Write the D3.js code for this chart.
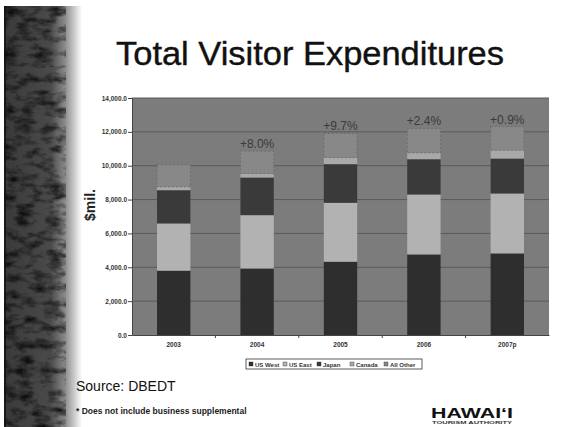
<!DOCTYPE html>
<html>
<head>
<meta charset="utf-8">
<script src="https://cdn.jsdelivr.net/npm/d3@7/dist/d3.min.js"></script>
<style>
  html, body { margin: 0; padding: 0; background: #fff; }
  svg { display: block; font-family: Arial, "Liberation Sans", sans-serif; }
</style>
</head>
<body>
<svg id="chart" width="566" height="427"></svg>
<script>
// Visitor spending by market, $ millions
const years    = ["2003", "2004", "2005", "2006", "2007p"];
const usWest   = [3800, 3930, 4330, 4760, 4820];
const usEast   = [2790, 3150, 3480, 3540, 3540];
const japan    = [1965, 2224, 2283, 2084, 2065];
const canada   = [195, 236, 395, 373, 490];
const allOther = [1306, 1321, 1426, 1443, 1395];
const seriesNames = ["US West", "US East", "Japan", "Canada", "All Other"];
const growthLabels = ["", "+8.0%", "+9.7%", "+2.4%", "+0.9%"];
const yTicks = [0, 2000, 4000, 6000, 8000, 10000, 12000, 14000];

const seriesColors = ["#2e2e2e", "#b2b2b2", "#3a3a3a", "#a9a9a9", "#888888"];

const svg = d3.select("#chart");
const W = 566, H = 427;

// decorative textured strip on the left edge
const defs = svg.append("defs");
const grad = defs.append("linearGradient").attr("id", "edge").attr("x1", 0).attr("x2", 1);
grad.append("stop").attr("offset", "0%").attr("stop-color", "#3a3a3a");
grad.append("stop").attr("offset", "60%").attr("stop-color", "#4a4a4a");
grad.append("stop").attr("offset", "78%").attr("stop-color", "#8a8a8a");
grad.append("stop").attr("offset", "100%").attr("stop-color", "#ffffff");
const grain = defs.append("filter").attr("id", "grain").attr("x", 0).attr("y", 0).attr("width", 1).attr("height", 1);
grain.append("feTurbulence").attr("type", "fractalNoise").attr("baseFrequency", "0.06 0.12").attr("numOctaves", 4).attr("seed", 3).attr("result", "n");
grain.append("feColorMatrix").attr("in", "n").attr("type", "matrix")
  .attr("values", "0 0 0 0 0  0 0 0 0 0  0 0 0 0 0  1.8 0 0 0 -0.75").attr("result", "m");
grain.append("feComposite").attr("in", "m").attr("in2", "SourceGraphic").attr("operator", "in");

svg.append("rect").attr("x", 4).attr("y", 6).attr("width", 78).attr("height", H - 6)
  .attr("fill", "url(#edge)");
svg.append("rect").attr("x", 4).attr("y", 6).attr("width", 62).attr("height", H - 6)
  .attr("fill", "#000").attr("filter", "url(#grain)");
svg.append("line").attr("x1", 5).attr("x2", 5).attr("y1", 6).attr("y2", H).attr("stroke", "#111").attr("stroke-width", 1.5);

// title
svg.append("text").attr("x", 116).attr("y", 65).attr("font-size", 33).attr("fill", "#111")
  .attr("stroke", "#111").attr("stroke-width", 0.4)
  .attr("textLength", 388).attr("lengthAdjust", "spacingAndGlyphs")
  .text("Total Visitor Expenditures");

// plot area
const plot = { left: 132, right: 549, top: 98, bottom: 335 };
const x = d3.scaleBand().domain(years).range([plot.left, plot.right]).paddingInner(0.6).paddingOuter(0.3);
const y = d3.scaleLinear().domain([0, 14000]).range([plot.bottom, plot.top]);

svg.append("rect").attr("x", plot.left).attr("y", plot.top)
  .attr("width", plot.right - plot.left).attr("height", plot.bottom - plot.top)
  .attr("fill", "#7c7c7c");

// gridlines
svg.append("g").selectAll("line").data(yTicks.slice(1)).join("line")
  .attr("x1", plot.left).attr("x2", plot.right)
  .attr("y1", d => y(d)).attr("y2", d => y(d))
  .attr("stroke", "#5a5a5a").attr("stroke-width", 1);

// stacked bars
const rows = years.map((yr, i) => ({
  year: yr, "US West": usWest[i], "US East": usEast[i], "Japan": japan[i],
  "Canada": canada[i], "All Other": allOther[i]
}));
const stacked = d3.stack().keys(seriesNames)(rows);

svg.append("g").selectAll("g").data(stacked).join("g")
  .attr("fill", (d, i) => seriesColors[i])
  .selectAll("rect").data(d => d).join("rect")
  .attr("x", d => x(d.data.year))
  .attr("width", x.bandwidth())
  .attr("y", d => y(d[1]))
  .attr("height", d => y(d[0]) - y(d[1]));

// outline the top segment
const topLayer = stacked[stacked.length - 1];
svg.append("g").selectAll("rect").data(topLayer).join("rect")
  .attr("x", d => x(d.data.year))
  .attr("width", x.bandwidth())
  .attr("y", d => y(d[1]))
  .attr("height", d => y(d[0]) - y(d[1]))
  .attr("fill", "none").attr("stroke", "#6a6a6a").attr("stroke-width", 0.8)
  .attr("stroke-dasharray", "2,2");

// growth labels above bars
svg.append("g").selectAll("text").data(topLayer).join("text")
  .attr("x", d => x(d.data.year) + x.bandwidth() / 2)
  .attr("y", d => y(d[1]) - 3)
  .attr("text-anchor", "middle").attr("font-size", 12).attr("fill", "#3a3a3a")
  .text((d, i) => growthLabels[i]);

// y axis
const yAxis = d3.axisLeft(y).tickValues(yTicks).tickSize(4).tickFormat(d3.format(",.1f"));
const gy = svg.append("g").attr("transform", `translate(${plot.left},0)`).call(yAxis);
gy.select(".domain").attr("stroke", "#444");
gy.selectAll(".tick line").attr("stroke", "#444");
gy.selectAll(".tick text").attr("font-size", 6.5).attr("font-weight", "bold").attr("fill", "#333").attr("x", -5);

// x axis
const xAxis = d3.axisBottom(x).tickSize(0).tickPadding(7);
const gx = svg.append("g").attr("transform", `translate(0,${plot.bottom})`).call(xAxis);
gx.select(".domain").attr("stroke", "#444");
gx.selectAll(".tick text").attr("font-size", 6.5).attr("font-weight", "bold").attr("fill", "#333");
// category separators
gx.append("g").selectAll("line").data(d3.range(1, years.length)).join("line")
  .attr("x1", i => plot.left + i * (plot.right - plot.left) / years.length)
  .attr("x2", i => plot.left + i * (plot.right - plot.left) / years.length)
  .attr("y1", 0).attr("y2", 3).attr("stroke", "#444");

// y axis title
svg.append("text").attr("transform", "translate(95,205) rotate(-90)")
  .attr("text-anchor", "middle").attr("font-size", 14).attr("font-weight", "bold").attr("fill", "#222")
  .text("$mil.");

// legend
const lg = svg.append("g").attr("transform", "translate(246,359)");
lg.append("rect").attr("width", 176).attr("height", 10).attr("fill", "#fff").attr("stroke", "#333").attr("stroke-width", 0.8);
const itemX = [3, 37, 71, 104, 138];
const items = lg.selectAll("g.item").data(seriesNames).join("g").attr("class", "item")
  .attr("transform", (d, i) => `translate(${itemX[i]},0)`);
items.append("rect").attr("x", 0).attr("y", 3).attr("width", 4).attr("height", 4)
  .attr("fill", (d, i) => seriesColors[i]).attr("stroke", "#333").attr("stroke-width", 0.4);
items.append("text").attr("x", 6).attr("y", 7.5).attr("font-size", 6).attr("font-weight", "bold").attr("fill", "#333").text(d => d);

// source and footnote
svg.append("text").attr("x", 76).attr("y", 391).attr("font-size", 14).attr("fill", "#111").text("Source: DBEDT");
svg.append("text").attr("x", 76).attr("y", 414).attr("font-size", 8.5).attr("font-weight", "bold").attr("fill", "#222")
  .text("* Does not include business supplemental");

// logo
svg.append("text").attr("x", 472).attr("y", 418).attr("text-anchor", "middle").attr("font-size", 15)
  .attr("font-weight", "900").attr("fill", "#111").attr("textLength", 82).attr("lengthAdjust", "spacingAndGlyphs")
  .text("HAWAI‘I");
svg.append("text").attr("x", 472).attr("y", 424).attr("text-anchor", "middle").attr("font-size", 4)
  .attr("font-weight", "bold").attr("fill", "#333").attr("textLength", 80).attr("lengthAdjust", "spacingAndGlyphs")
  .text("TOURISM AUTHORITY");
</script>
</body>
</html>
